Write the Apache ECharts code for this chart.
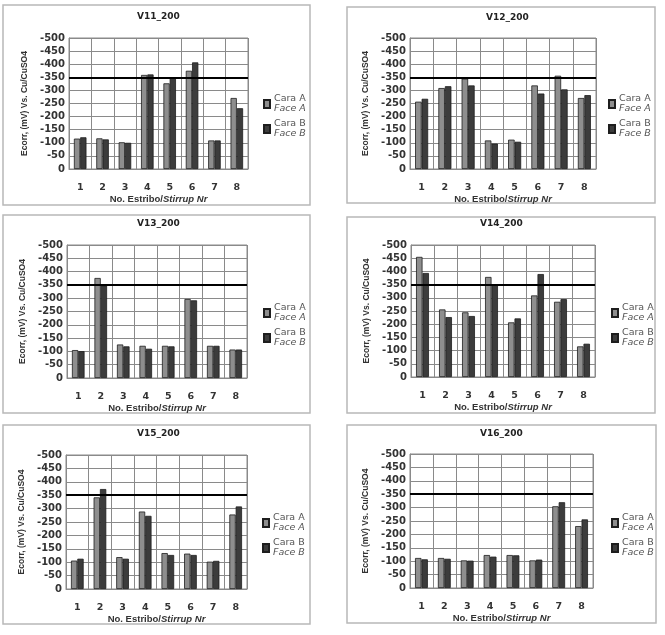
<!DOCTYPE html>
<html><head><meta charset="utf-8">
<script src="https://cdn.jsdelivr.net/npm/echarts@6/dist/echarts.min.js"></script>
<style>html,body{margin:0;padding:0;background:#fff}#c{width:665px;height:635px}</style>
</head><body><div id="c"></div>
<script>
// ---- data ----
const categories = ['1','2','3','4','5','6','7','8'];
const titles = ['V11_200','V12_200','V13_200','V14_200','V15_200','V16_200'];
const faceA_V11 = [-116,-117,-102,-359,-327,-375,-109,-271];
const faceB_V11 = [-121,-113,-100,-361,-350,-407,-109,-232];
const faceA_V12 = [-257,-309,-345,-109,-112,-319,-356,-271];
const faceB_V12 = [-268,-316,-319,-97,-104,-288,-304,-282];
const faceA_V13 = [-105,-376,-126,-121,-121,-297,-121,-107];
const faceB_V13 = [-101,-348,-119,-110,-119,-292,-121,-107];
const faceA_V14 = [-455,-256,-245,-379,-207,-309,-285,-116];
const faceB_V14 = [-394,-227,-231,-351,-222,-390,-295,-126];
const faceA_V15 = [-106,-342,-119,-289,-134,-132,-102,-278];
const faceB_V15 = [-113,-373,-113,-273,-127,-127,-105,-308];
const faceA_V16 = [-112,-112,-103,-123,-123,-103,-305,-231];
const faceB_V16 = [-107,-109,-102,-117,-122,-106,-320,-256];
const limitValue = -350;
const yMin = -500, yMax = 0, yStep = 50;
const seriesNames = ['Cara A','Cara B'];
const seriesSubNames = ['Face A','Face B'];
const xAxisName = ['No. Estribo/','Stirrup Nr'];
const yAxisName = 'Ecorr, (mV) Vs. Cu/CuSO4';

const panelA = [faceA_V11, faceA_V12, faceA_V13, faceA_V14, faceA_V15, faceA_V16];
const panelB = [faceB_V11, faceB_V12, faceB_V13, faceB_V14, faceB_V15, faceB_V16];

// ---- layout ----
const layout = [
 {box:[3,5,307,200],   grid:[69,38,179,131],  title:[157,18],  legend:[263,95]},
 {box:[347,7,308,196], grid:[410,38,186,131], title:[506,19],  legend:[608,95]},
 {box:[3,215,307,198], grid:[67,245,180,133], title:[157,225], legend:[263,304]},
 {box:[347,217,308,196],grid:[411,245,184,132],title:[500,225], legend:[611,304]},
 {box:[3,425,307,199], grid:[66,455,181,134], title:[157,435], legend:[262,514]},
 {box:[347,425,309,198],grid:[410,454,183,134],title:[500,435], legend:[611,514]}
];
const FONT = 'DejaVu Sans';
const colorA = '#8e8e8e', colorB = '#3c3c3c';

const option = {
  animation: false,
  backgroundColor: '#fff',
  title: [], legend: [], grid: [], xAxis: [], yAxis: [], series: [], graphic: []
};
layout.forEach((L, i) => {
  option.graphic.push({type:'rect', silent:true, z:-1,
    shape:{x:L.box[0], y:L.box[1], width:L.box[2], height:L.box[3]},
    style:{fill:'none', stroke:'#b8b8b8', lineWidth:1.5}});
  option.title.push({text: titles[i], left: L.title[0] - 20, top: L.title[1] - 6, padding: 0,
    textStyle:{fontFamily: FONT, fontSize: 9, fontWeight:'bold', color:'#222'}});
  option.legend.push({orient:'vertical', left: L.legend[0], top: L.legend[1] - 1, padding:0,
    itemWidth:6, itemHeight:8, itemGap:5, icon:'rect',
    data: seriesNames,
    formatter: n => '{a|' + n + '}\n{b|' + seriesSubNames[seriesNames.indexOf(n)] + '}',
    textStyle:{fontFamily: FONT, color:'#555', padding:[0,0,0,-1],
      rich:{a:{fontFamily:FONT,fontSize:9.5,lineHeight:10,color:'#555'},
            b:{fontFamily:FONT,fontSize:9.5,lineHeight:10,fontStyle:'italic',color:'#555'}}}});
  option.grid.push({left:L.grid[0], top:L.grid[1], width:L.grid[2], height:L.grid[3],
    show:true, borderColor:'#8a8a8a', borderWidth:1, containLabel:false});
  option.xAxis.push({type:'category', gridIndex:i, data: categories,
    axisLine:{show:true, lineStyle:{color:'#8a8a8a'}}, axisTick:{show:false},
    axisLabel:{margin:14, fontFamily:FONT, fontSize:9.5, fontWeight:'bold', color:'#333'},
    splitLine:{show:true, lineStyle:{color:'#8a8a8a', width:1}},
    name: '{a|' + xAxisName[0] + '}{b|' + xAxisName[1] + '}', nameLocation:'middle', nameGap:24,
    nameTextStyle:{rich:{a:{fontFamily:'Liberation Sans',fontSize:9.5,fontWeight:'bold',color:'#333'},
                         b:{fontFamily:'Liberation Sans',fontSize:9.5,fontWeight:'bold',fontStyle:'italic',color:'#333'}}}});
  option.yAxis.push({type:'value', gridIndex:i, min:yMin, max:yMax, interval:yStep, inverse:true,
    axisLine:{show:true, lineStyle:{color:'#8a8a8a'}}, axisTick:{show:false},
    axisLabel:{margin:4, fontFamily:FONT, fontSize:10, fontWeight:'bold', color:'#333'},
    splitLine:{show:true, lineStyle:{color:'#8a8a8a', width:1}},
    name: yAxisName, nameLocation:'middle', nameRotate:90, nameGap:40,
    nameTextStyle:{fontFamily:'Liberation Sans', fontSize:8.5, fontWeight:'bold', color:'#333'}});
  option.series.push({name: seriesNames[0], type:'bar', xAxisIndex:i, yAxisIndex:i,
    data: panelA[i], barGap:'0%', barCategoryGap:'44%',
    itemStyle:{color:colorA, borderColor:'#1e1e1e', borderWidth:0.8},
    markLine:{silent:true, symbol:['none','none'], label:{show:false},
      lineStyle:{color:'#000', width:2, type:'solid'}, data:[{yAxis: limitValue}]}});
  option.series.push({name: seriesNames[1], type:'bar', xAxisIndex:i, yAxisIndex:i,
    data: panelB[i], barGap:'0%', barCategoryGap:'44%',
    itemStyle:{color:colorB, borderColor:'#1e1e1e', borderWidth:0.8}});
});
const chart = echarts.init(document.getElementById('c'), null, {renderer:'canvas'});
chart.setOption(option);
</script></body></html>
